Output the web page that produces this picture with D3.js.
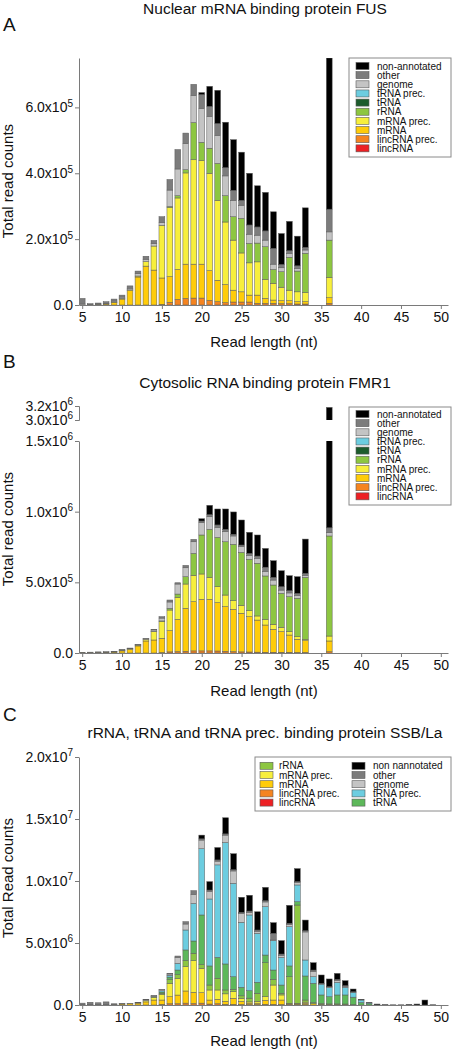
<!DOCTYPE html>
<html><head><meta charset="utf-8">
<script src="https://cdn.jsdelivr.net/npm/d3@7"></script>
<style>
body{margin:0;background:#fff;}
svg{display:block;font-family:"Liberation Sans",Arial,Helvetica,sans-serif;}
</style></head><body>
<svg id="chart" width="452" height="1050"></svg>
<script>
// ---------- categories ----------
const keys = ["lincRNA","lincRNAprec","mRNA","mRNAprec","rRNA","tRNA","tRNAprec","genome","other","non"];
const labelsAB = {non:"non-annotated",other:"other",genome:"genome",tRNAprec:"tRNA prec.",tRNA:"tRNA",rRNA:"rRNA",mRNAprec:"mRNA prec.",mRNA:"mRNA",lincRNAprec:"lincRNA prec.",lincRNA:"lincRNA"};
const legendOrderAB = ["non","other","genome","tRNAprec","tRNA","rRNA","mRNAprec","mRNA","lincRNAprec","lincRNA"];
const legendC1 = ["rRNA","mRNAprec","mRNA","lincRNAprec","lincRNA"];
const legendC2 = ["non","other","genome","tRNAprec","tRNA"];
const labelsC = {...labelsAB, non:"non nannotated"};
const xTicks = [5,10,15,20,25,30,35,40,45,50];

// ---------- Panel A: FUS (values in thousands of reads) ----------
const lengthsA = [5,6,7,8,9,10,11,12,13,14,15,16,17,18,19,20,21,22,23,24,25,26,27,28,29,30,31,32,33,36];
const A_lincRNA     = [0,0,0,0,0,0,0,0,0,0,0,0,0,0,0,0,0,0,0,0,0,0,0,0,0,0,0,0,0,0];
const A_lincRNAprec = [0,0,0,0,0,0,0,0,0,0,2,8,17,20,21,21,14,10,7,9,9,9,5,5,5,4,4,3,3,5];
const A_mRNA        = [1,1,2,3,8,18,44,85,118,106,80,78,91,104,103,103,90,65,55,36,31,21,25,15,10,9,9,7,7,17];
const A_mRNAprec    = [0,0,0,0,1,2,2,3,14,73,160,210,217,277,317,315,296,243,190,152,118,98,101,58,51,41,32,30,28,62];
const A_rRNA        = [0,0,0,0,0,0,0,0,0,0,0,3,7,10,113,55,76,112,80,71,105,59,57,99,42,47,100,63,119,113];
const A_tRNA        = [0,0,0,0,0,0,0,0,0,0,0,0,0,0,0,0,0,0,0,0,0,0,0,0,0,0,0,0,0,0];
const A_tRNAprec    = [0,0,0,0,0,0,0,0,0,0,0,0,0,0,0,0,0,0,0,0,0,0,0,0,0,0,0,0,0,0];
const A_genome      = [4,0,1,2,3,4,5,7,7,7,8,50,81,79,82,103,97,85,60,50,40,28,24,20,16,12,12,8,10,25];
const A_other       = [15,3,3,5,6,6,7,8,9,10,18,32,59,32,34,42,30,36,25,30,15,28,25,28,48,10,8,8,8,69];
const A_non         = [0,0,0,0,0,0,0,0,0,0,0,0,0,0,0,6,61,101,138,154,146,157,125,117,111,94,89,90,120,459];
const yTicksA = [0,2e5,4e5,6e5];

// ---------- Panel B: FMR1 (values in thousands of reads) ----------
const lengthsB = [5,6,7,8,9,10,11,12,13,14,15,16,17,18,19,20,21,22,23,24,25,26,27,28,29,30,31,32,33,36];
const B_lincRNA     = [0,0,0,0,0,0,0,0,0,0,0,0,0,0,0,0,0,0,0,0,0,0,0,0,0,0,0,0,0,0];
const B_lincRNAprec = [0,0,0,0,0,0,0,0,0,0,3,8,10,12,15,15,15,14,12,10,8,7,6,5,5,5,5,4,4,9];
const B_mRNA        = [3,3,4,5,7,15,25,50,85,92,101,150,228,304,348,365,365,342,316,299,273,250,227,193,163,146,122,93,83,76];
const B_mRNAprec    = [0,0,0,0,1,3,5,6,12,59,120,146,156,172,187,179,156,113,82,61,56,42,29,40,35,31,24,18,10,35];
const B_rRNA        = [0,0,0,0,0,0,0,0,0,2,3,12,23,52,155,276,339,349,377,399,375,364,373,307,278,240,248,272,438,708];
const B_tRNA        = [0,0,0,0,0,0,0,0,0,0,0,0,0,0,0,0,0,0,0,0,0,0,0,0,0,0,0,0,0,0];
const B_tRNAprec    = [0,0,0,0,0,0,0,0,0,0,0,0,0,0,0,0,0,0,0,0,0,0,0,0,0,0,0,0,0,0];
const B_genome      = [0,0,0,0,2,3,3,3,4,10,20,45,71,63,82,87,89,71,71,59,40,28,35,32,35,23,26,20,15,23];
const B_other       = [2,3,4,5,2,2,2,2,3,5,10,14,9,17,17,12,15,17,17,12,12,14,16,30,19,24,16,15,14,35];
const B_non         = [0,0,0,0,0,0,0,0,0,0,0,0,0,0,0,16,66,113,144,158,177,149,149,133,118,113,106,118,242,2294];
const yTicksBlow = [0,5e5,1e6,1.5e6];
const yTicksBup = [3.0e6,3.2e6];

// ---------- Panel C: SSB/La (values in millions of reads) ----------
const lengthsC = [5,6,7,8,9,10,11,12,13,14,15,16,17,18,19,20,21,22,23,24,25,26,27,28,29,30,31,32,33,34,35,36,37,38,39,40,41,42,43,44,45,46,47,48,49];
const C_lincRNA     = [0,0,0,0,0,0,0,0,0,0,0,0,0,0,0,0,0,0,0,0,0,0,0,0,0,0,0,0,0,0,0,0,0,0,0,0,0,0,0,0,0,0,0,0,0];
const C_lincRNAprec = [0,0,0,0,0,0,0,0,0,0,0.05,0.1,0.1,0.15,0.12,0.15,0.08,0.1,0.05,0.05,0.04,0.03,0.03,0.05,0.05,0.04,0.03,0.03,0.03,0,0,0,0,0,0,0,0,0,0,0,0,0,0,0,0];
const C_mRNA        = [0,0,0,0,0.03,0.08,0.11,0.15,0.25,0.4,0.35,0.57,0.7,0.98,0.9,0.84,0.32,0.36,0.25,0.49,0.25,0.12,0.12,0.32,0.35,0.36,0.05,0.05,0.1,0.1,0.05,0.04,0.04,0.04,0.03,0,0,0,0,0,0,0,0,0,0];
const C_mRNAprec    = [0,0,0,0,0,0,0,0.03,0.12,0.22,0.45,1.08,1.35,1.96,2.55,1.97,0.81,0.75,0.6,0.53,0.25,0.1,0.15,0.3,1.21,0.41,0.05,0.05,0.1,0,0,0,0,0,0,0,0,0,0,0,0,0,0,0,0];
const C_rRNA        = [0,0,0,0,0,0,0,0,0,0,0.1,0.3,0.3,0.5,0.6,0.3,0.4,0.94,0.31,0.2,0.2,0.3,0.64,2.74,0.46,0.13,2.15,7.93,0.17,0.09,0.06,0.05,0.05,0.04,0,0,0,0,0,0,0,0,0,0,0];
const C_tRNA        = [0,0,0,0,0,0,0,0,0,0.05,0.1,0.2,0.37,0.85,0.99,4.0,1.54,1.69,2.1,1.01,0.69,0.6,0.89,0.62,0.75,0.67,0.87,0.27,1.94,1.56,0.7,0.58,0.72,0.73,0.6,0.2,0.12,0,0,0,0,0,0,0,0];
const C_tRNAprec    = [0,0,0,0,0,0,0,0,0,0,0.1,0.15,0.54,1.61,3.03,5.34,5.4,7.46,9.79,7.53,5.24,6.11,3.95,3.9,2.37,2.23,3.17,1.35,1.29,0.53,0.87,0.73,1.02,0.62,0.4,0.2,0.05,0,0,0,0,0,0,0,0];
const C_genome      = [0.03,0.05,0.03,0.05,0,0,0,0,0.05,0.05,0.08,0.1,0.48,0.48,0.74,0.7,0.62,0.3,0.6,1.0,0.7,0.22,0.17,0.38,0.05,0.17,0.17,0.22,2.26,0.44,0.04,0.05,0.14,0.08,0.02,0,0,0,0,0,0,0,0,0,0];
const C_other       = [0.12,0.17,0.15,0.2,0.07,0.03,0.03,0.04,0.04,0.03,0.03,0.05,0.11,0.19,0.29,0.1,0.1,0.1,0.1,0.1,0.1,0.1,0.1,0.1,0.54,0.1,0.1,0.05,0.1,0.1,0.03,0.03,0.1,0.05,0.02,0.03,0.05,0.03,0.03,0.02,0.02,0,0,0,0];
const C_non         = [0,0,0,0,0,0,0,0,0,0,0,0,0,0,0,0.3,0.68,1.0,1.3,1.29,1.22,1.27,1.47,1.08,0.86,1.08,1.45,1.05,0.86,0.59,0.67,0.62,0.48,0.4,0.22,0.03,0,0.05,0,0,0,0.04,0.08,0.4,0.02];
const yTicksC = [0,5e6,1e7,1.5e7,2e7];

// ---------- colours ----------
const colorsAB = {lincRNA:"#ed2024", lincRNAprec:"#f58420", mRNA:"#ffcc0a", mRNAprec:"#f7ef3c", rRNA:"#8dc641",
                  tRNA:"#1c5b2c", tRNAprec:"#6ccde0", genome:"#c4c4c4", other:"#7c7c7c", non:"#000000"};
const colorsC = Object.assign({}, colorsAB, {tRNA:"#5db85a"});

const seriesA = {lincRNA:A_lincRNA,lincRNAprec:A_lincRNAprec,mRNA:A_mRNA,mRNAprec:A_mRNAprec,rRNA:A_rRNA,tRNA:A_tRNA,tRNAprec:A_tRNAprec,genome:A_genome,other:A_other,non:A_non};
const seriesB = {lincRNA:B_lincRNA,lincRNAprec:B_lincRNAprec,mRNA:B_mRNA,mRNAprec:B_mRNAprec,rRNA:B_rRNA,tRNA:B_tRNA,tRNAprec:B_tRNAprec,genome:B_genome,other:B_other,non:B_non};
const seriesC = {lincRNA:C_lincRNA,lincRNAprec:C_lincRNAprec,mRNA:C_mRNA,mRNAprec:C_mRNAprec,rRNA:C_rRNA,tRNA:C_tRNA,tRNAprec:C_tRNAprec,genome:C_genome,other:C_other,non:C_non};

// ---------- drawing ----------
const svg = d3.select("#chart");
const defs = svg.append("defs");
const AX = "#7a7a7a";
const x = d3.scaleLinear().domain([4.6, 50.9]).range([79, 448]);

function clip(id, y0, y1){
  defs.append("clipPath").attr("id", id).append("rect")
    .attr("x", 70).attr("y", y0).attr("width", 382).attr("height", y1 - y0);
}

function sciLabel(sel){
  sel.each(function(d){
    const t = d3.select(this); t.text(null);
    if (d === 0) { t.text("0.0"); return; }
    const e = Math.floor(Math.log10(d) + 1e-9);
    const m = d / Math.pow(10, e);
    t.append("tspan").text(m.toFixed(1) + "x10");
    t.append("tspan").attr("dy", "-0.55em").attr("font-size", "10px").text(e);
  });
}

function styleAxis(g){
  g.attr("font-family", null).attr("font-size", null);
  g.selectAll("path,line").attr("stroke", AX).attr("stroke-width", 1);
  g.selectAll("text").attr("fill", "#111").attr("font-size", "14px");
}

function drawBars(lengths, series, unit, y, colors, clipId){
  const rows = lengths.map((n, i) => { const r = {n}; keys.forEach(k => r[k] = series[k][i] * unit); return r; });
  const stacked = d3.stack().keys(keys)(rows);
  const bg = svg.append("g").attr("clip-path", `url(#${clipId})`);
  bg.selectAll("g").data(stacked).join("g").attr("fill", d => colors[d.key])
    .selectAll("rect").data(d => d.filter(s => s[1] - s[0] > 0)).join("rect")
    .attr("x", d => x(d.data.n) - 2.9).attr("width", 5.8)
    .attr("y", d => y(d[1])).attr("height", d => Math.max(0.3, y(d[0]) - y(d[1])))
    .attr("stroke", "#5a5a5a").attr("stroke-width", 0.5);
}

function xAxis(y0, labelY){
  const g = svg.append("g").attr("transform", `translate(0,${y0})`)
    .call(d3.axisBottom(x).tickValues(xTicks).tickSize(4).tickSizeOuter(0).tickPadding(3).tickFormat(d3.format("d")));
  styleAxis(g);
  svg.append("text").attr("x", 264).attr("y", labelY).attr("text-anchor", "middle")
    .attr("font-size", "15px").attr("fill", "#111").text("Read length (nt)");
}

function yAxis(y, ticks, outer){
  const g = svg.append("g").attr("transform", "translate(79,0)")
    .call(d3.axisLeft(y).tickValues(ticks).tickSize(4).tickSizeOuter(outer).tickPadding(2));
  styleAxis(g);
  g.selectAll(".tick text").call(sciLabel);
  return g;
}

function yLabel(text, cy){
  svg.append("text").attr("transform", `translate(13,${cy}) rotate(-90)`).attr("text-anchor", "middle")
    .attr("font-size", "15px").attr("fill", "#111").text(text);
}

function title(text, y){
  svg.append("text").attr("x", 265).attr("y", y).attr("text-anchor", "middle")
    .attr("font-size", "15.5px").attr("fill", "#111").text(text);
}
function letter(text, y){
  svg.append("text").attr("x", 3).attr("y", y).attr("font-size", "19px").attr("fill", "#111").text(text);
}

function legendBox(x0, y0, w, h){
  svg.append("rect").attr("x", x0).attr("y", y0).attr("width", w).attr("height", h)
    .attr("fill", "#fff").attr("stroke", "#8a8a8a").attr("stroke-width", 1);
}
function legendCol(items, labels, colors, sx, tx, cy0, step){
  const g = svg.append("g");
  const it = g.selectAll("g").data(items).join("g").attr("transform", (d, i) => `translate(0,${cy0 + i * step})`);
  it.append("rect").attr("x", sx).attr("y", -3.5).attr("width", 13).attr("height", 7)
    .attr("fill", d => colors[d]).attr("stroke", "#5a5a5a").attr("stroke-width", 0.6);
  it.append("text").attr("x", tx).attr("y", 3.6).attr("font-size", "10px").attr("fill", "#111").text(d => labels[d]);
}

// ===== Panel A =====
letter("A", 31);
title("Nuclear mRNA binding protein FUS", 14);
const yA = d3.scaleLinear().domain([0, 7.5e5]).range([305, 58]);
clip("clipA", 58, 305);
drawBars(lengthsA, seriesA, 1e3, yA, colorsAB, "clipA");
xAxis(305, 347);
yAxis(yA, yTicksA, 0);
yLabel("Total read counts", 181);
legendBox(349, 58, 102, 99);
legendCol(legendOrderAB, labelsAB, colorsAB, 356, 377, 66, 9.15);

// ===== Panel B =====
letter("B", 368);
title("Cytosolic RNA binding protein FMR1", 388);
const yBlow = d3.scaleLinear().domain([0, 1.5e6]).range([653, 441]);
const yBup = d3.scaleLinear().domain([3.0e6, 3.2e6]).range([420, 406]);
clip("clipBlow", 441, 653);
clip("clipBup", 406, 420);
drawBars(lengthsB, seriesB, 1e3, yBlow, colorsAB, "clipBlow");
drawBars(lengthsB, seriesB, 1e3, yBup, colorsAB, "clipBup");
xAxis(653, 696);
yAxis(yBlow, yTicksBlow, 0);
yAxis(yBup, yTicksBup, 4);
yLabel("Total read counts", 529);
legendBox(349, 407, 102, 98);
legendCol(legendOrderAB, labelsAB, colorsAB, 356, 377, 414, 9.15);

// ===== Panel C =====
letter("C", 721);
title("rRNA, tRNA and tRNA prec. binding protein SSB/La", 738);
const yC = d3.scaleLinear().domain([0, 2e7]).range([1005, 757]);
clip("clipC", 757, 1005);
drawBars(lengthsC, seriesC, 1e6, yC, colorsC, "clipC");
xAxis(1005, 1046);
yAxis(yC, yTicksC, 0);
yLabel("Total Read counts", 878);
legendBox(255, 757, 196, 54);
legendCol(legendC1, labelsC, colorsC, 260, 279, 765.8, 9.2);
legendCol(legendC2, labelsC, colorsC, 352, 373, 765.8, 9.2);
</script>
</body></html>
